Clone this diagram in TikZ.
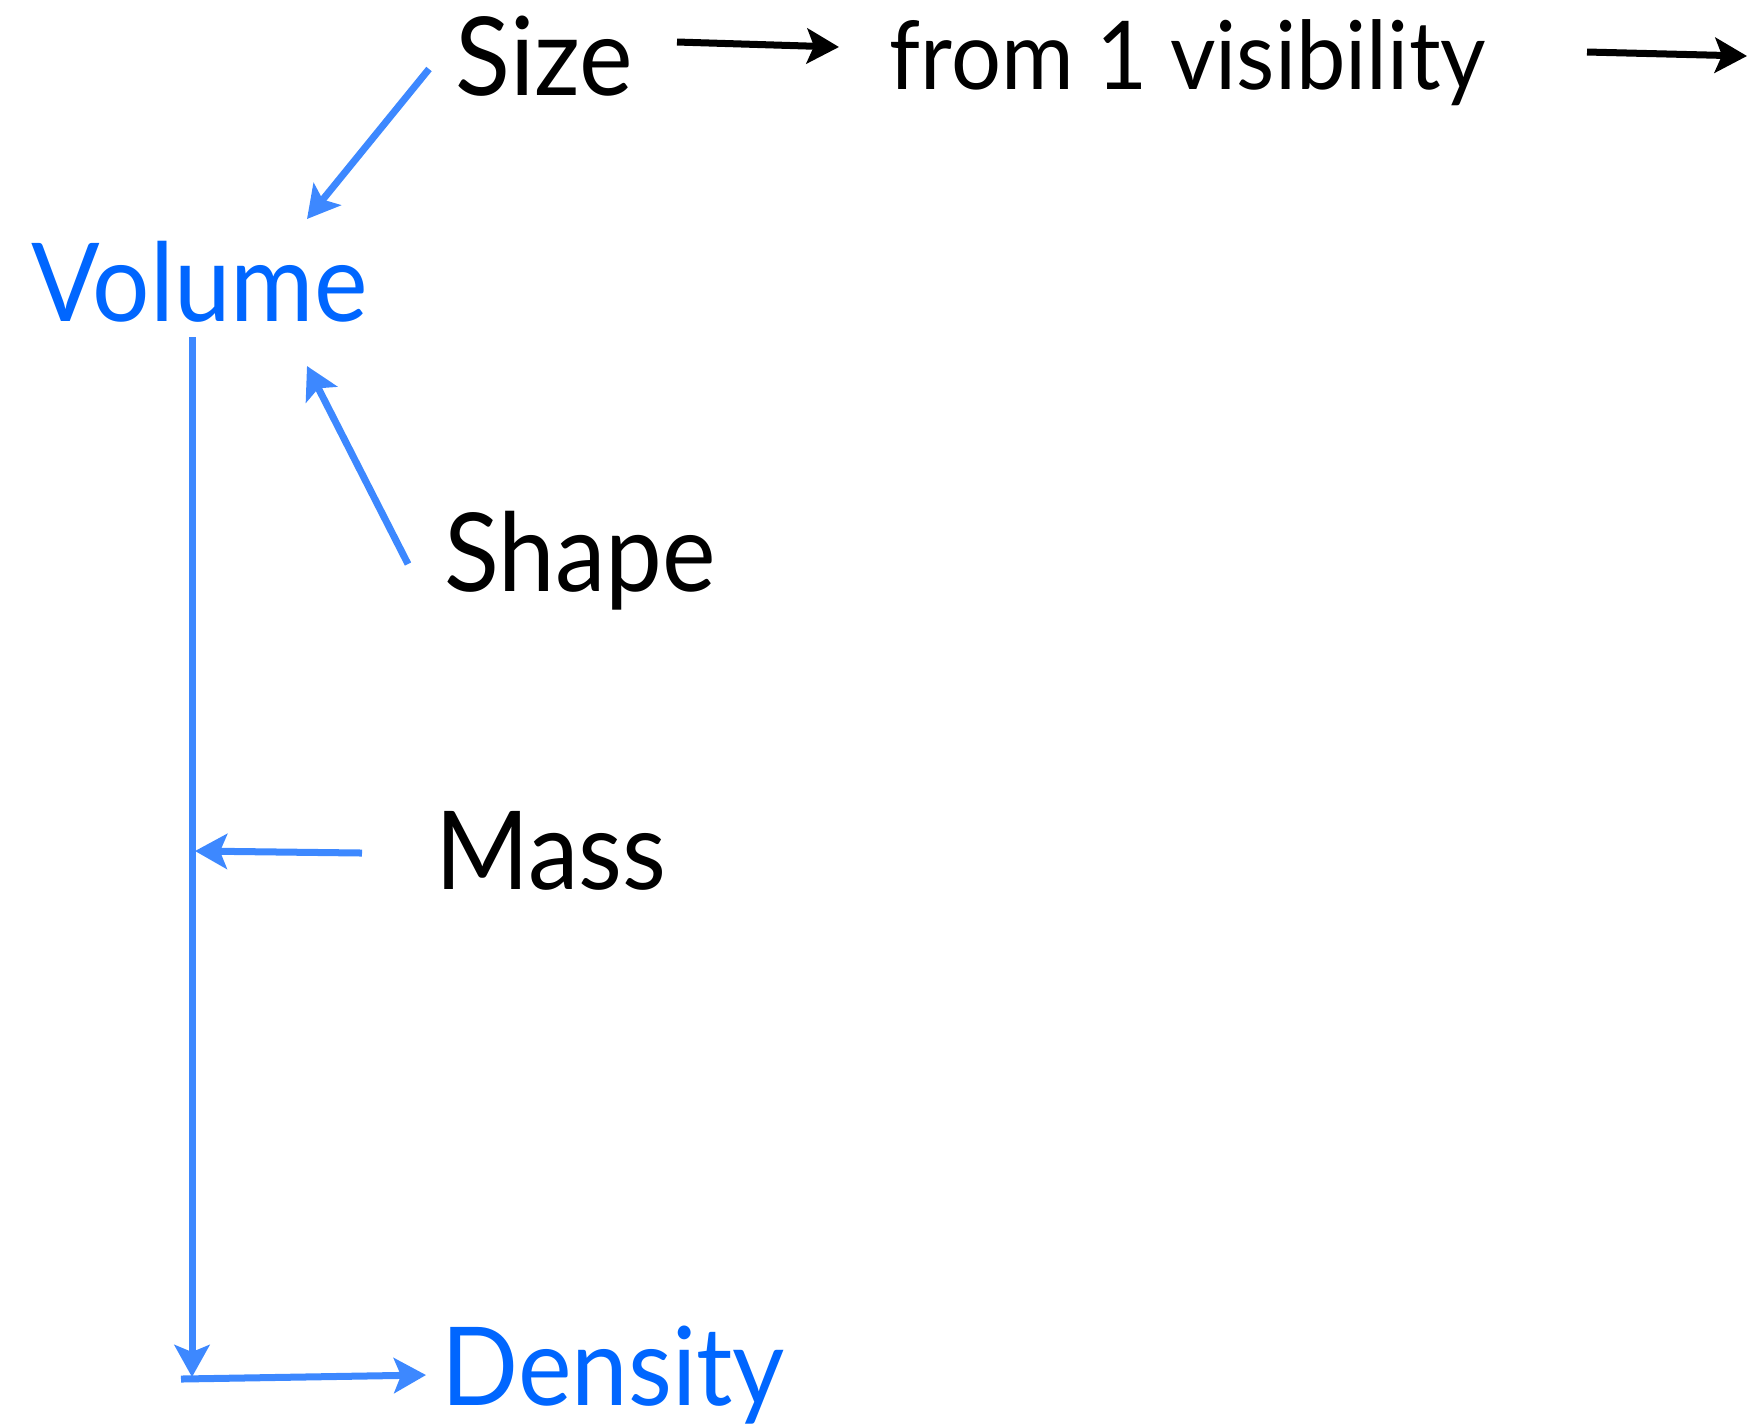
\documentclass[tikz,border=0pt]{standalone}
\usepackage{fontspec}
\setmainfont{Lato}[FakeStretch=0.93]
\usepackage{tikz}
\usetikzlibrary{arrows.meta, calc}
\definecolor{qtblue}{HTML}{0066FF}
\definecolor{qtarrow}{HTML}{3D88FF}
\begin{document}
\begin{tikzpicture}[
  x=0.01cm, y=-0.01cm,
  word/.style={anchor=base west, inner sep=0pt,
    font=\fontsize{31}{36}\selectfont},
  keyword/.style={word, text=qtblue},
  small/.style={word, font=\fontsize{27}{32}\selectfont},
  arrow/.style={-{Stealth[length=0.32cm, width=0.35cm, inset=0.07cm]},
    line width=0.07cm, color=#1},
  arrow/.default=qtarrow,
]
\useasboundingbox (0,0) rectangle (1749,1426);

% --- Words ---
\node[word] (size) at (455,95) {Size};
\node[small] (vis) at (889,89) {from 1 visibility};
\node[keyword] (volume) at (31,321) {Volume};
\node[word] (shape) at (444,591) {Shape};
\node[word] (mass) at (435,889) {Mass};
\node[keyword] (density) at (441,1405) {Density};
\coordinate (out) at (1747,56);

% --- Arrows ---
\draw[arrow=black] ($(size.base west)+(222,-53)$) -- ($(vis.base west)+(-50,-42)$);
\draw[arrow=black] ($(vis.base west)+(698,-37)$) -- (out);
\draw[arrow] ($(size.base west)+(-26,-26)$) -- ($(volume.base west)+(276,-102)$);
\draw[arrow] ($(shape.base west)+(-36,-27)$) -- ($(volume.base west)+(276,45)$);
\draw[arrow] ($(volume.base west)+(161,16)$) -- ($(density.base west)+(-249,-28)$);
\draw[arrow] ($(mass.base west)+(-73,-36)$) -- ($(mass.base west)+(-240,-38)$);
\draw[arrow] ($(density.base west)+(-260,-26)$) -- ($(density.base west)+(-15,-30)$);

\end{tikzpicture}
\end{document}
